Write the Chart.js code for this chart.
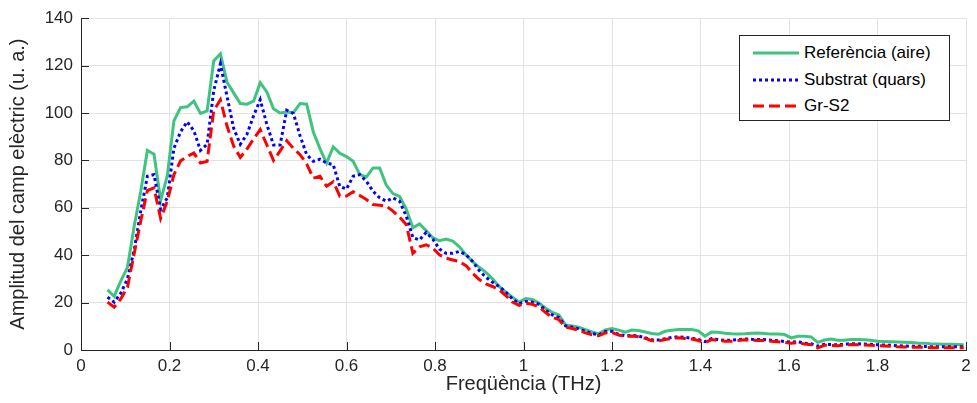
<!DOCTYPE html>
<html>
<head>
<meta charset="utf-8">
<script src="https://cdn.jsdelivr.net/npm/chart.js@4.4.1/dist/chart.umd.min.js"></script>
<style>
  html, body { margin: 0; padding: 0; background: #fff; }
  #wrap { position: relative; width: 977px; height: 403px; }
  #legend {
    position: absolute; left: 739px; top: 35px; width: 209px; height: 84px;
    border: 1px solid #262626; background: #fff;
    font-family: 'Liberation Sans', Arial, sans-serif; font-size: 17px; color: #000;
  }
  #legend .row { position: absolute; left: 13px; height: 24px; display: flex; align-items: center; }
  #legend svg { width: 46px; height: 6px; margin-right: 5px; }
</style>
</head>
<body>
<div id="wrap">
  <canvas id="spectrumChart"></canvas>
  <div id="legend">
    <div class="row" style="top:5px"><svg><line x1="0" y1="3" x2="46" y2="3" stroke="#3ec47f" stroke-width="3"/></svg>Referència (aire)</div>
    <div class="row" style="top:32px"><svg><line x1="0" y1="3" x2="46" y2="3" stroke="#0000ff" stroke-width="3" stroke-dasharray="3 3"/></svg>Substrat (quars)</div>
    <div class="row" style="top:58px"><svg><line x1="0" y1="3" x2="46" y2="3" stroke="#ff0000" stroke-width="3" stroke-dasharray="11 5"/></svg>Gr-S2</div>
  </div>
</div>
<script>
// ── Data ───────────────────────────────────────────
const freq = [
    0.060, 0.075, 0.090, 0.105, 0.120, 0.135, 0.150, 0.165, 0.180, 0.195,
    0.210, 0.225, 0.240, 0.255, 0.270, 0.285, 0.300, 0.315, 0.330, 0.345,
    0.360, 0.375, 0.390, 0.405, 0.420, 0.435, 0.450, 0.465, 0.480, 0.495,
    0.510, 0.525, 0.540, 0.555, 0.570, 0.585, 0.600, 0.615, 0.630, 0.645,
    0.660, 0.675, 0.690, 0.705, 0.720, 0.735, 0.750, 0.765, 0.780, 0.795,
    0.810, 0.825, 0.840, 0.855, 0.870, 0.885, 0.900, 0.915, 0.930, 0.945,
    0.960, 0.975, 0.990, 1.005, 1.020, 1.035, 1.050, 1.065, 1.080, 1.095,
    1.110, 1.125, 1.140, 1.155, 1.170, 1.185, 1.200, 1.215, 1.230, 1.245,
    1.260, 1.275, 1.290, 1.305, 1.320, 1.335, 1.350, 1.365, 1.380, 1.395,
    1.410, 1.425, 1.440, 1.455, 1.470, 1.485, 1.500, 1.515, 1.530, 1.545,
    1.560, 1.575, 1.590, 1.605, 1.620, 1.635, 1.650, 1.665, 1.680, 1.695,
    1.710, 1.725, 1.740, 1.755, 1.770, 1.785, 1.800, 1.815, 1.830, 1.845,
    1.860, 1.875, 1.890, 1.905, 1.920, 1.935, 1.950, 1.965, 1.980, 1.995
];

// Referència (aire)
const refAire = [
    25.4, 22.6, 29.2, 34.9, 52.0, 67.0, 84.2, 82.6, 63.1, 73.5,
    96.7, 102.3, 102.6, 105.0, 99.8, 100.9, 122.0, 125.0, 113.0, 108.5,
    104.0, 103.7, 105.0, 112.8, 108.9, 101.8, 100.0, 100.4, 100.2, 104.0,
    103.7, 92.0, 85.0, 78.9, 85.7, 83.0, 81.6, 79.6, 74.0, 73.0,
    76.8, 76.8, 69.5, 66.0, 64.8, 59.5, 51.6, 53.2, 50.4, 47.4,
    46.1, 46.8, 46.0, 43.5, 40.1, 37.3, 34.9, 32.8, 30.0, 26.8,
    24.4, 22.3, 20.2, 21.7, 21.3, 19.8, 17.6, 15.9, 14.8, 10.6,
    10.1, 9.6, 8.6, 7.6, 6.8, 8.5, 9.1, 8.4, 7.5, 8.4,
    8.2, 7.6, 7.0, 6.7, 7.9, 8.3, 8.6, 8.6, 8.6, 8.1,
    5.8, 7.6, 7.5, 7.1, 6.9, 6.8, 6.9, 7.1, 7.2, 7.0,
    6.7, 6.7, 6.5, 5.1, 5.8, 5.8, 5.5, 3.2, 4.2, 4.6,
    4.1, 4.1, 4.4, 4.4, 4.3, 4.1, 3.7, 3.6, 3.5, 3.4,
    3.3, 3.2, 3.0, 2.9, 2.6, 2.5, 2.4, 2.4, 2.3, 2.2
];

// Substrat (quars)
const substrat = [
    22.3, 20.2, 24.0, 30.0, 42.0, 58.6, 73.3, 74.0, 59.3, 64.2,
    85.1, 92.1, 96.3, 92.5, 84.2, 86.8, 109.5, 120.7, 107.0, 93.5,
    86.8, 91.0, 98.8, 105.6, 95.2, 86.5, 86.5, 101.2, 99.8, 90.4,
    82.4, 79.6, 80.5, 78.9, 78.2, 69.0, 67.9, 73.3, 74.0, 71.2,
    67.0, 64.2, 62.8, 64.2, 62.8, 56.5, 47.5, 46.4, 49.6, 46.8,
    42.6, 40.8, 40.8, 41.6, 40.2, 37.4, 33.5, 30.7, 28.6, 26.8,
    24.4, 21.6, 19.5, 20.5, 20.2, 19.3, 16.8, 14.8, 13.7, 10.2,
    9.6, 8.9, 7.9, 6.9, 6.4, 7.8, 7.9, 6.6, 6.0, 6.2,
    5.9, 5.2, 4.3, 4.2, 4.8, 5.3, 5.6, 5.3, 5.0, 4.4,
    3.5, 4.8, 4.4, 4.1, 4.1, 4.4, 4.7, 4.5, 4.4, 4.4,
    4.1, 3.9, 3.6, 3.3, 3.5, 2.9, 2.6, 1.6, 2.4, 2.3,
    2.2, 2.4, 2.7, 2.6, 2.5, 2.4, 2.2, 2.1, 2.0, 1.8,
    1.7, 1.6, 1.6, 1.5, 1.4, 1.4, 1.4, 1.4, 1.4, 1.4
];

// Gr-S2
const grS2 = [
    20.2, 18.1, 21.6, 26.5, 40.5, 54.4, 67.3, 68.4, 55.5, 62.8,
    74.0, 79.8, 81.7, 83.1, 78.9, 79.6, 101.0, 105.6, 94.5, 86.0,
    81.3, 84.8, 89.0, 93.0, 86.5, 80.0, 84.0, 88.3, 85.1, 82.4,
    78.5, 72.5, 73.3, 69.1, 71.0, 64.9, 65.0, 66.8, 65.2, 63.5,
    61.4, 61.1, 60.7, 58.6, 56.1, 53.0, 40.8, 43.5, 44.4, 43.0,
    40.2, 38.8, 38.0, 37.4, 35.6, 32.4, 29.7, 27.9, 26.8, 25.4,
    23.0, 20.2, 18.8, 19.8, 19.3, 18.2, 15.8, 13.8, 12.8, 9.6,
    9.1, 8.3, 7.2, 6.4, 6.0, 7.2, 7.4, 6.3, 5.7, 5.9,
    5.6, 4.9, 3.9, 3.8, 4.4, 4.9, 5.2, 4.9, 4.6, 4.0,
    3.1, 4.4, 4.0, 3.7, 3.7, 4.0, 4.3, 4.1, 4.0, 4.0,
    3.7, 3.5, 3.2, 2.9, 3.1, 2.5, 2.2, 0.9, 2.0, 1.9,
    1.8, 2.0, 2.3, 2.2, 2.1, 2.0, 1.8, 1.7, 1.6, 1.4,
    1.3, 1.2, 1.2, 1.1, 1.0, 1.0, 1.0, 1.0, 1.0, 1.0
];

const xTicks = [0, 0.2, 0.4, 0.6, 0.8, 1, 1.2, 1.4, 1.6, 1.8, 2];
const yTicks = [0, 20, 40, 60, 80, 100, 120, 140];

// ── Helpers ────────────────────────────────────────
const AXIS = '#262626';
const FONT = "'Liberation Sans', Arial, sans-serif";

const toPoints = ys => freq.map((f, i) => ({ x: f, y: ys[i] }));

// MATLAB style ticks pointing into the plot
const inwardTicks = {
    id: 'inwardTicks',
    beforeDatasetsDraw(chart) {
        const { ctx, chartArea: a, scales: { x, y } } = chart;
        ctx.save();
        ctx.strokeStyle = AXIS;
        ctx.lineWidth = 1;
        ctx.beginPath();
        xTicks.forEach(v => {
            const px = Math.round(x.getPixelForValue(v)) + 0.5;
            ctx.moveTo(px, a.bottom);
            ctx.lineTo(px, a.bottom - 8);
        });
        yTicks.forEach(v => {
            const py = Math.round(y.getPixelForValue(v)) + 0.5;
            ctx.moveTo(a.left, py);
            ctx.lineTo(a.left + 8, py);
        });
        ctx.stroke();
        ctx.restore();
    }
};

// ── Chart ──────────────────────────────────────────
new Chart(document.getElementById('spectrumChart'), {
    type: 'line',
    data: {
        datasets: [
            {
                label: 'Referència (aire)',
                data: toPoints(refAire),
                borderColor: '#3ec47f',
                borderWidth: 3,
                pointRadius: 0,
                tension: 0,
                order: 3,
            },
            {
                label: 'Substrat (quars)',
                data: toPoints(substrat),
                borderColor: '#0000ff',
                borderWidth: 3,
                borderDash: [3, 3],
                pointRadius: 0,
                tension: 0,
                order: 2,
            },
            {
                label: 'Gr-S2',
                data: toPoints(grS2),
                borderColor: '#ff0000',
                borderWidth: 3,
                borderDash: [11, 5],
                pointRadius: 0,
                tension: 0,
                order: 1,
            }
        ]
    },
    options: {
        responsive: true,
        maintainAspectRatio: false,
        animation: false,
        layout: { padding: { top: 15, right: 11, left: 0, bottom: 0 } },
        plugins: {
            legend: { display: false },
            tooltip: { enabled: false }
        },
        scales: {
            x: {
                type: 'linear',
                min: 0,
                max: 2,
                afterFit: s => { s.height = 53; },
                afterBuildTicks: s => { s.ticks = xTicks.map(v => ({ value: v })); },
                grid: { color: '#e3e3e3', drawTicks: false },
                border: { color: AXIS, width: 1 },
                ticks: {
                    color: AXIS,
                    padding: 6,
                    maxRotation: 0,
                    autoSkip: false,
                    font: { family: FONT, size: 17 },
                    callback: v => String(+v.toFixed(1))
                },
                title: {
                    display: true,
                    text: 'Freqüència (THz)',
                    color: AXIS,
                    font: { family: FONT, size: 20 },
                    padding: { top: 0, bottom: 7 }
                }
            },
            y: {
                min: 0,
                max: 140,
                afterFit: s => { s.width = 81; },
                afterBuildTicks: s => { s.ticks = yTicks.map(v => ({ value: v })); },
                grid: { color: '#e3e3e3', drawTicks: false },
                border: { color: AXIS, width: 1 },
                ticks: {
                    color: AXIS,
                    padding: 8,
                    font: { family: FONT, size: 17 }
                },
                title: {
                    display: true,
                    text: 'Amplitud del camp elèctric (u. a.)',
                    color: AXIS,
                    font: { family: FONT, size: 20 },
                    padding: { top: 6, bottom: 0 }
                }
            }
        }
    },
    plugins: [inwardTicks]
});
</script>
</body>
</html>
